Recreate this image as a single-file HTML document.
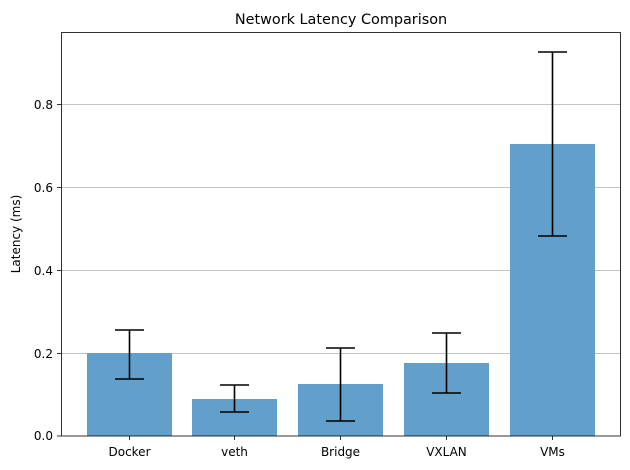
<!DOCTYPE html>
<html><head><meta charset="utf-8"><style>
html,body{margin:0;padding:0;background:#fff;}
svg{display:block;font-family:"DejaVu Sans","Liberation Sans",sans-serif;}
</style></head><body>
<svg width="630" height="470" viewBox="0 0 630 470" xmlns="http://www.w3.org/2000/svg">
<rect width="630" height="470" fill="#fff"/>
<g stroke="#b0b0b0" stroke-width="0.8">
<line x1="61" x2="621" y1="353.5" y2="353.5"/>
<line x1="61" x2="621" y1="270.5" y2="270.5"/>
<line x1="61" x2="621" y1="187.5" y2="187.5"/>
<line x1="61" x2="621" y1="104.5" y2="104.5"/>
</g>
<g fill="#629fca">
<rect x="87" y="353" width="85" height="83"/>
<rect x="192" y="399" width="85" height="37"/>
<rect x="298" y="384" width="85" height="52"/>
<rect x="404" y="363" width="85" height="73"/>
<rect x="510" y="144" width="85" height="292"/>
</g>
<g stroke="#000" stroke-width="1.6" fill="none">
<line x1="129.5" x2="129.5" y1="330" y2="379"/><line x1="115" x2="144" y1="330" y2="330"/><line x1="115" x2="144" y1="379" y2="379"/>
<line x1="234.5" x2="234.5" y1="385" y2="412"/><line x1="220" x2="249" y1="385" y2="385"/><line x1="220" x2="249" y1="412" y2="412"/>
<line x1="340.5" x2="340.5" y1="348" y2="421"/><line x1="326" x2="355" y1="348" y2="348"/><line x1="326" x2="355" y1="421" y2="421"/>
<line x1="446.5" x2="446.5" y1="333" y2="393"/><line x1="432" x2="461" y1="333" y2="333"/><line x1="432" x2="461" y1="393" y2="393"/>
<line x1="552.5" x2="552.5" y1="52" y2="236"/><line x1="538" x2="567" y1="52" y2="52"/><line x1="538" x2="567" y1="236" y2="236"/>
</g>
<rect x="61.5" y="32.5" width="559" height="403.5" fill="none" stroke="#000" stroke-width="0.8"/>
<g stroke="#000" stroke-width="0.8">
<line x1="57" x2="61" y1="436" y2="436"/><line x1="57" x2="61" y1="353.5" y2="353.5"/><line x1="57" x2="61" y1="270.5" y2="270.5"/><line x1="57" x2="61" y1="187.5" y2="187.5"/><line x1="57" x2="61" y1="104.5" y2="104.5"/>
<line x1="129.5" x2="129.5" y1="436" y2="440"/><line x1="234.5" x2="234.5" y1="436" y2="440"/><line x1="340.5" x2="340.5" y1="436" y2="440"/><line x1="446.5" x2="446.5" y1="436" y2="440"/><line x1="552.5" x2="552.5" y1="436" y2="440"/>
</g>
<g font-size="12" fill="#000" text-anchor="end">
<text x="53" y="440">0.0</text><text x="53" y="358">0.2</text><text x="53" y="275">0.4</text><text x="53" y="192">0.6</text><text x="53" y="109">0.8</text>
</g>
<g font-size="12" fill="#000" text-anchor="middle">
<text x="129.5" y="456">Docker</text><text x="234.5" y="456">veth</text><text x="340.5" y="456">Bridge</text><text x="446.5" y="456">VXLAN</text><text x="552.5" y="456">VMs</text>
</g>
<text x="20" y="234" font-size="12" text-anchor="middle" transform="rotate(-90 20 234)">Latency (ms)</text>
<text x="341" y="24" font-size="14.4" text-anchor="middle">Network Latency Comparison</text>
</svg>
</body></html>
